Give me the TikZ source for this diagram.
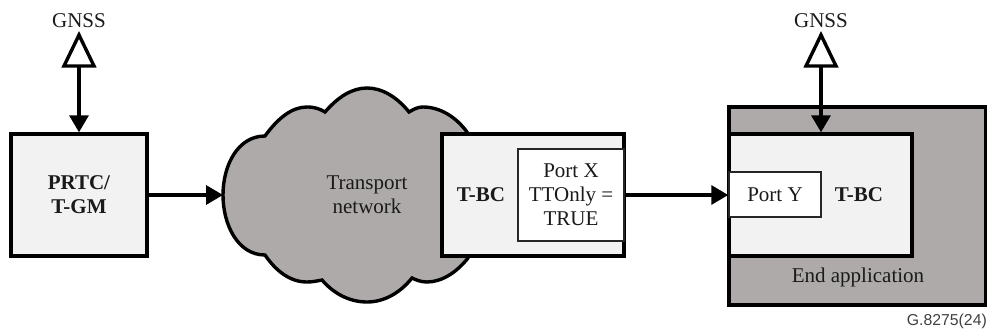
\documentclass[tikz,border=0pt]{standalone}
\usepackage{fontspec}
\setmainfont{Liberation Serif}
\newfontfamily\refsans{Liberation Sans}
\usetikzlibrary{arrows.meta}
\definecolor{boxfill}{HTML}{F2F2F2}
\definecolor{darkfill}{HTML}{AEAAAA}
\definecolor{labelink}{HTML}{1A1A1A}
\tikzset{
  x=1pt,y=-1pt,
  every node/.style={font=\fontsize{21}{24}\selectfont,text=labelink,align=center,inner sep=0pt},
  heavybox/.style={draw=black,line width=3.4pt,fill=boxfill},
  portbox/.style={draw=black!85,line width=1.5pt,fill=white},
  outline/.style={draw=black,line width=3.4pt},
  link/.style={draw=black,line width=3.4pt,-{Triangle[length=17pt,width=19pt]}},
  antenna/.style={draw=black,line width=3.4pt,fill=white,miter limit=10},
  caption/.style={font=\refsans\fontsize{15.8}{18}\selectfont,text=black!75}
}
\begin{document}
\begin{tikzpicture}
\useasboundingbox (0,0) rectangle (987,329);
\fill[white] (0,0) rectangle (987,329);

% cloud
\filldraw[outline,fill=darkfill] (265,255)
  .. controls (238,255) and (223,225) .. (223,195)
  .. controls (223,165) and (238,136) .. (265,136)
  .. controls (278,118) and (292,107) .. (307,107)
  .. controls (315,107) and (320,109) .. (325,112)
  .. controls (338,97) and (352,88) .. (367,88)
  .. controls (382,88) and (397,97) .. (409,112)
  .. controls (414,109) and (418,107) .. (423,107)
  .. controls (440,107) and (456,117) .. (467,132)
  -- (468,258)
  .. controls (457,272) and (442,282) .. (427,282)
  .. controls (421,282) and (416,280) .. (412,278)
  .. controls (400,293) and (384,302) .. (367,302)
  .. controls (350,302) and (334,294) .. (322,280)
  .. controls (317,281) and (312,282) .. (307,282)
  .. controls (290,282) and (276,271) .. (265,255) -- cycle;
\coordinate (cloudw) at (223,195);
\node (cloudlabel) at (367,195) {Transport\\network};

% boxes
\node[heavybox,minimum width=136pt,minimum height=122pt] (gm) at (79,195) {\textbf{PRTC/}\\\textbf{T-GM}};
\node[heavybox,minimum width=182pt,minimum height=122pt] (tbcx) at (533,195) {};
\node (tbcxlabel) at (481,195) {\textbf{T-BC}};
\node[portbox,minimum width=106pt,minimum height=92pt] (portx) at (571,195) {Port X\\TTOnly =\\TRUE};

\node[draw=black,line width=3.4pt,fill=darkfill,minimum width=257pt,minimum height=198pt] (endapp) at (857.5,206) {};
\node[heavybox,minimum width=183pt,minimum height=122pt] (tbcy) at (820.5,195) {};
\node (tbcylabel) at (859,195) {\textbf{T-BC}};
\node[portbox,minimum width=92pt,minimum height=45pt] (porty) at (775,194.5) {Port Y};
\node (endlabel) at (858,277) {End application};

% antennas
\node (gnssl) at (79,21) {GNSS};
\node (gnssr) at (821,21) {GNSS};
\draw[antenna] (64,66) -- (79,35) -- (94,66) -- cycle;
\coordinate (antl) at (79,66);
\draw[antenna] (806,66) -- (821,35) -- (836,66) -- cycle;
\coordinate (antr) at (821,66);

% connectors
\draw[link] (antl) -- (antl |- gm.north);
\draw[link] (antr) -- (antr |- tbcy.north);
\draw[link] (gm.east |- cloudw) -- (cloudw);
\draw[link] (tbcx.east) -- (porty.west |- tbcx.east);

\node[caption,anchor=base east] (figid) at (987,325) {G.8275(24)};
\end{tikzpicture}
\end{document}
